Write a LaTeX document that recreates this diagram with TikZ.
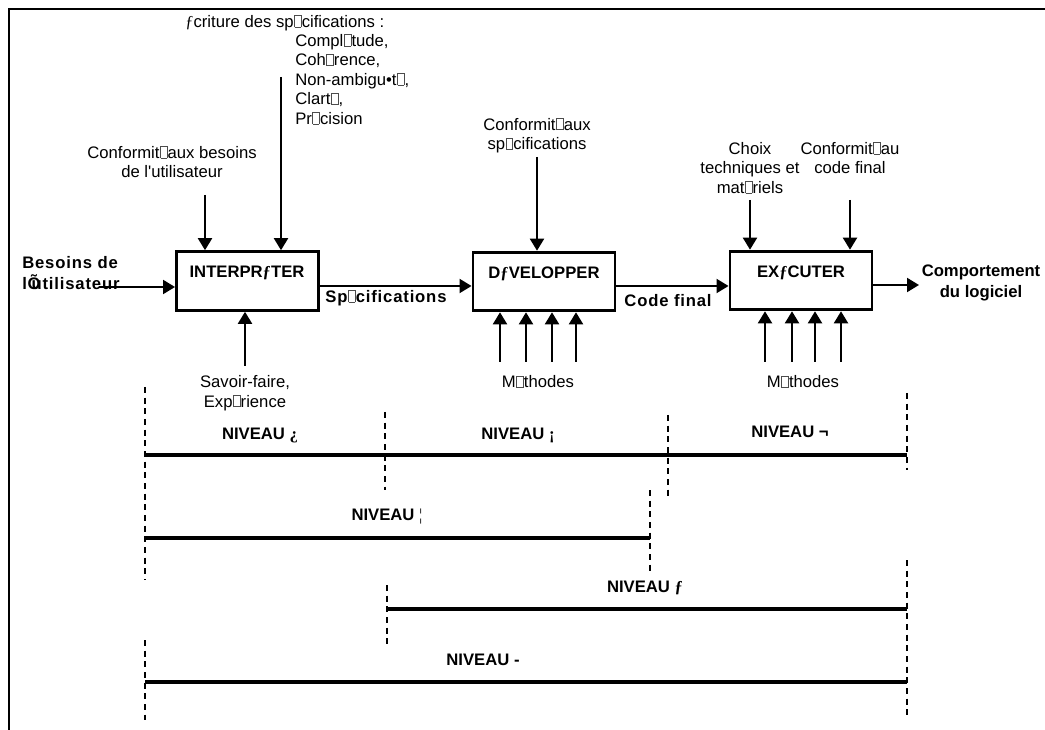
\documentclass[tikz,border=0pt]{standalone}
\usepackage{fontspec}
\setmainfont{Liberation Sans}
\newfontfamily\glyphserif{Liberation Serif}
\usetikzlibrary{arrows.meta,calc}
% replacement box glyph
\newcommand{\bx}{\kern0.3pt\hbox{\color{black!70}\vrule height 9pt width .45pt\vbox to 9pt{\hrule width 4.6pt height .45pt\vfil\hrule width 4.6pt height .45pt}\vrule height 9pt width .45pt}\kern0.3pt}
\newcommand{\fy}{{\glyphserif ƒ}}
\begin{document}
\begin{tikzpicture}[x=0.75pt,y=-0.75pt,
  font=\fontsize{12.5}{14.6}\selectfont,
  procbox/.style={draw,line width=2.2pt,minimum width=106.5pt,minimum height=44pt,inner sep=0pt},
  arr/.style={line width=1.5pt,-{Triangle[length=9pt,width=10.5pt]}},
  lvl/.style={line width=2.6pt},
  guide/.style={line width=1.3pt,dash pattern=on 4.5pt off 3.5pt},
  txt/.style={inner sep=0pt,align=center},
  ltxt/.style={inner sep=0pt,align=left},
  btxt/.style={inner sep=0pt,align=center,font=\fontsize{12.5}{15.8}\selectfont\bfseries},
  wbtxt/.style={btxt,font=\fontsize{12.5}{15.8}\selectfont\bfseries\addfontfeature{LetterSpace=5}},
  frame/.style={line width=2.2pt}]
\useasboundingbox (0,0) rectangle (1045,730);

% outer frame
\coordinate (fbl) at (9,731);
\coordinate (ftl) at (9,9);
\coordinate (ftr) at (1046,9);
\draw[frame] (fbl) -- (ftl) -- (ftr);

% process boxes
\node[procbox] (interp) at (247.5,281) {};
\node[procbox] (dev) at (544,281.5) {};
\node[procbox] (exec) at (801,280.5) {};
\node[btxt] (tinterp) at (247,273) {INTERPR\fy TER};
\node[btxt] (tdev) at (544,274) {D\fy VELOPPER};
\node[btxt] (texec) at (801,273) {EX\fy CUTER};

% main flow
\node[wbtxt,align=left,anchor=west] (besoins) at (22,273.5) {Besoins de\\ lÕ\kern-0.55em utilisateur};
\coordinate (inA) at (99,287);
\draw[arr] (inA) -- (inA -| interp.west);
\draw[arr] (interp.east |- 0,286) -- (dev.west |- 0,286);
\node[wbtxt] (lspec) at (386,298) {Sp\bx cifications};
\draw[arr] (dev.east |- 0,286) -- (exec.west |- 0,286);
\node[wbtxt] (lcode) at (668,301) {Code final};
\coordinate (outA) at (919,285);
\draw[arr] (exec.east |- outA) -- (outA);
\node[btxt] (comport) at (981,282.5) {Comportement\\ du logiciel};

% controls on INTERPRETER
\node[txt] (cbesoins) at (172,162) {Conformit\bx aux besoins\\ de l\textquotesingle utilisateur};
\coordinate (ci1) at (205,195);
\draw[arr] (ci1) -- (ci1 |- interp.north);
\node[ltxt,anchor=west] (ecrit) at (185,23) {\fy criture des sp\bx cifications :};
\node[ltxt,anchor=north west] (crit) at (295,34) {Compl\bx tude,\\ Coh\bx rence,\\ Non-ambigu•t\bx ,\\ Clart\bx ,\\ Pr\bx cision};
\coordinate (ci2) at (281,77);
\draw[arr] (ci2) -- (ci2 |- interp.north);
\coordinate (mi1) at (245,366);
\draw[arr] (mi1) -- (mi1 |- interp.south);
\node[txt] (savoir) at (245,393) {Savoir-faire,\\ Exp\bx rience};

% controls and mechanisms on DEVELOPPER
\node[txt] (cspec) at (537,135.5) {Conformit\bx aux\\ sp\bx cifications};
\coordinate (cd1) at (537,157);
\draw[arr] (cd1) -- (cd1 |- dev.north);
\foreach \i/\x in {1/500,2/526,3/552,4/576}{
  \coordinate (md\i) at (\x,362);
  \draw[arr] (md\i) -- (md\i |- dev.south);
}
\node[txt] (methd) at (538,382) {M\bx thodes};

% controls and mechanisms on EXECUTER
\node[txt] (choix) at (750,168) {Choix\\ techniques et\\ mat\bx riels};
\node[txt] (ccode) at (850,158) {Conformit\bx au\\ code final};
\coordinate (ce1) at (750,200);
\coordinate (ce2) at (850,200);
\draw[arr] (ce1) -- (ce1 |- exec.north);
\draw[arr] (ce2) -- (ce2 |- exec.north);
\foreach \i/\x in {1/765,2/792,3/815,4/841}{
  \coordinate (me\i) at (\x,362);
  \draw[arr] (me\i) -- (me\i |- exec.south);
}
\node[txt] (methe) at (803,382) {M\bx thodes};

% level guides
\coordinate (ga1) at (145,387); \coordinate (ga2) at (145,580);
\coordinate (ga3) at (145,640); \coordinate (ga4) at (145,720);
\coordinate (gb1) at (385,412); \coordinate (gb2) at (385,490);
\coordinate (gc1) at (387,585); \coordinate (gc2) at (387,645);
\coordinate (gd1) at (668,415); \coordinate (gd2) at (668,497);
\coordinate (ge1) at (650,490); \coordinate (ge2) at (650,575);
\coordinate (gf1) at (907,393); \coordinate (gf2) at (907,470);
\coordinate (gf3) at (907,560); \coordinate (gf4) at (907,720);
\draw[guide] (ga1) -- (ga2);
\draw[guide] (ga3) -- (ga4);
\draw[guide] (gb1) -- (gb2);
\draw[guide] (gc1) -- (gc2);
\draw[guide] (gd1) -- (gd2);
\draw[guide] (ge1) -- (ge2);
\draw[guide] (gf1) -- (gf2);
\draw[guide] (gf3) -- (gf4);

% level bars
\coordinate (l1a) at (145,455); \coordinate (l1b) at (907,455);
\coordinate (l4a) at (145,538); \coordinate (l4b) at (650,538);
\coordinate (l5a) at (387,609); \coordinate (l5b) at (907,609);
\coordinate (l6a) at (145,682); \coordinate (l6b) at (907,682);
\draw[lvl] (l1a) -- (l1b);
\draw[lvl] (l4a) -- (l4b);
\draw[lvl] (l5a) -- (l5b);
\draw[lvl] (l6a) -- (l6b);
\node[btxt] (n1) at (260,435) {NIVEAU {\glyphserif ¿}};
\node[btxt] (n2) at (518,435) {NIVEAU {\glyphserif ¡}};
\node[btxt] (n3) at (790,432) {NIVEAU ¬};
\node[btxt] (n4) at (387,517) {NIVEAU {\glyphserif\mdseries ¦}};
\node[btxt] (n5) at (645,588) {NIVEAU \fy};
\node[btxt] (n6) at (483,660) {NIVEAU -};
\end{tikzpicture}
\end{document}
